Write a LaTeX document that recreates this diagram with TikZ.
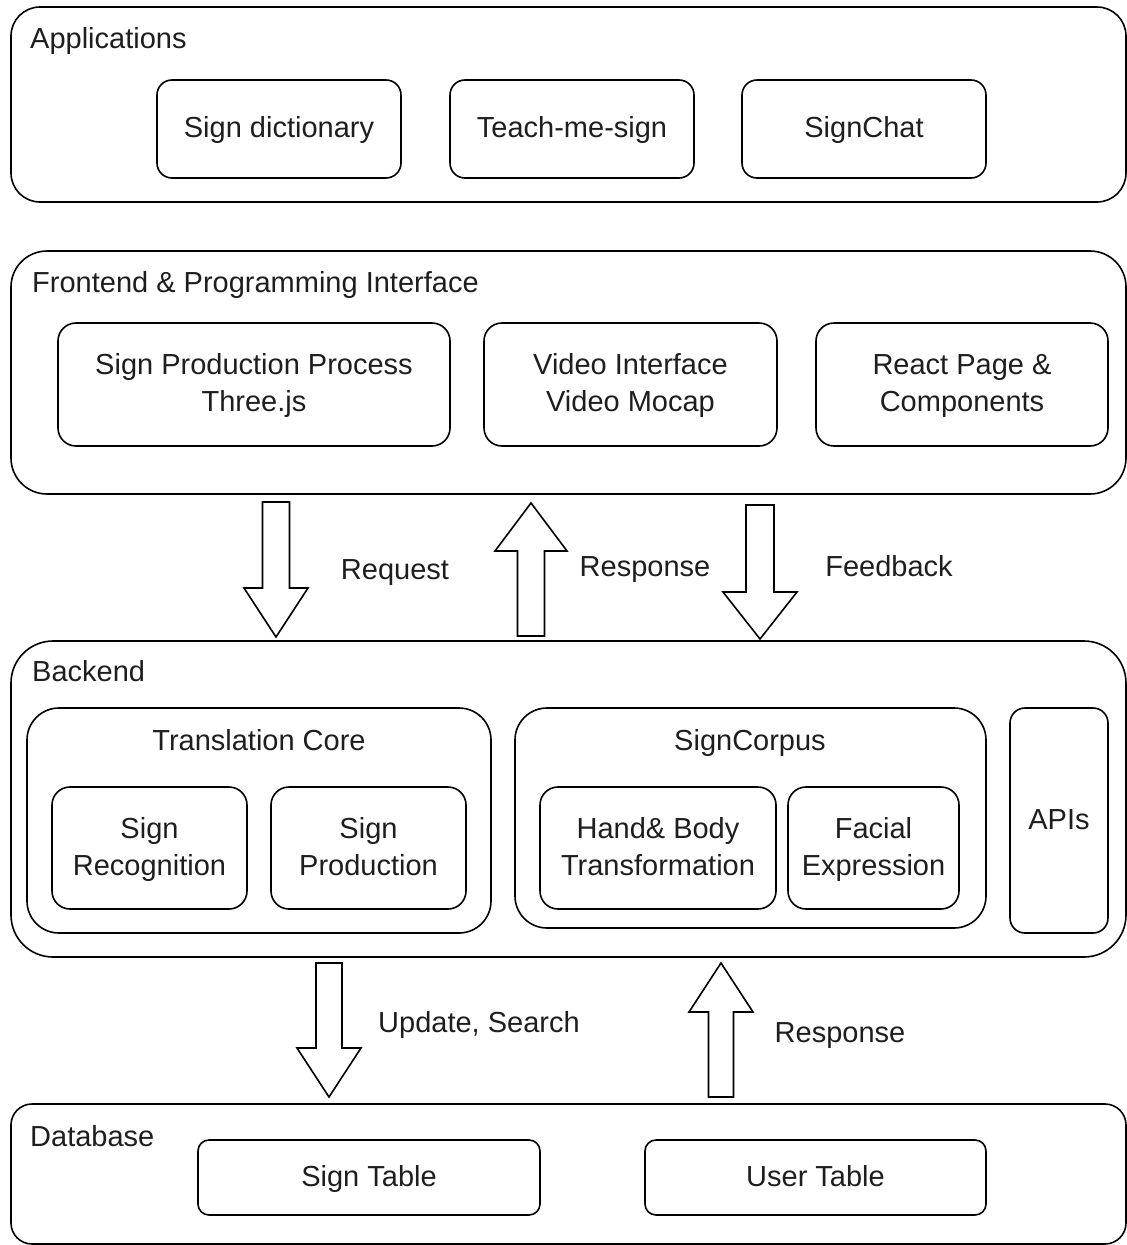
\documentclass[tikz,border=0pt]{standalone}
\usepackage{fontspec}
\setmainfont{Liberation Sans}
\usetikzlibrary{calc}
\definecolor{textc}{RGB}{30,30,30}
\newcommand\mainfs{\fontsize{29}{37}\selectfont}
\newcommand\st{\rule[-6.3pt]{0pt}{30pt}}
\tikzset{
  box/.style={draw=black, line width=1.6pt, inner sep=0pt, outer sep=0pt, align=center, text=textc, font=\mainfs},
  lab/.style={inner sep=0pt, text=textc, font=\mainfs},
  barrow/.style={draw=black, line width=1.6pt, fill=white, line join=miter},
}
% tail, tip, half shaft width, half head width, head length
\newcommand\blockarrow[5]{%
  \coordinate (hbase) at ($(#2)!#5!(#1)$);
  \draw[barrow] ($(#1)!#3!90:(#2)$) -- ($(hbase)!#3!90:(#2)$) -- ($(hbase)!#4!90:(#2)$) -- (#2)
    -- ($(hbase)!#4!-90:(#2)$) -- ($(hbase)!#3!-90:(#2)$) -- ($(#1)!#3!-90:(#2)$) -- cycle;
}
\begin{document}
\begin{tikzpicture}[x=1pt,y=-1pt]
\useasboundingbox (0,0) rectangle (1127,1245);

% Applications
\node[box, rounded corners=29pt, minimum width=1115pt, minimum height=195pt] (app) at (568.5,104.5) {};
\node[lab, anchor=west] (applab) at (30,40) {\st Applications};
\node[box, rounded corners=15pt, minimum width=244pt, minimum height=98pt] (sd) at (279,129) {\st Sign dictionary};
\node[box, rounded corners=15pt, minimum width=244pt, minimum height=98pt] (tms) at (572,129) {\st Teach-me-sign};
\node[box, rounded corners=15pt, minimum width=244pt, minimum height=98pt] (sc) at (864,129) {\st SignChat};

% Frontend
\node[box, rounded corners=36pt, minimum width=1115pt, minimum height=243pt] (front) at (568.5,372.5) {};
\node[lab, anchor=west] (frontlab) at (32,284) {\st Frontend \& Programming Interface};
\node[box, rounded corners=18pt, minimum width=392pt, minimum height=123pt] (spp) at (254,384.5) {\st Sign Production Process\\\st Three.js};
\node[box, rounded corners=18pt, minimum width=293pt, minimum height=123pt] (vi) at (630.5,384.5) {\st Video Interface\\\st Video Mocap};
\node[box, rounded corners=18pt, minimum width=292pt, minimum height=123pt] (rp) at (962,384.5) {\st React Page \&\\\st Components};

% Backend
\node[box, rounded corners=42pt, minimum width=1115pt, minimum height=316pt] (back) at (568.5,799) {};
\node[lab, anchor=west] (backlab) at (32,673) {\st Backend};
\node[box, rounded corners=32pt, minimum width=464pt, minimum height=225pt] (tc) at (259,820.5) {};
\node[lab] (tctitle) at (259,742) {\st Translation Core};
\node[box, rounded corners=18pt, minimum width=195pt, minimum height=122pt] (sr) at (149.5,848) {\st Sign\\\st Recognition};
\node[box, rounded corners=18pt, minimum width=195pt, minimum height=122pt] (sprod) at (368.5,848) {\st Sign\\\st Production};
\node[box, rounded corners=32pt, minimum width=471pt, minimum height=220pt] (corp) at (750.5,818) {};
\node[lab] (corptitle) at (750,742) {\st SignCorpus};
\node[box, rounded corners=18pt, minimum width=236pt, minimum height=122pt] (hbt) at (658,848) {\st Hand\& Body\\\st Transformation};
\node[box, rounded corners=18pt, minimum width=171pt, minimum height=122pt] (fe) at (873.5,848) {\st Facial\\\st Expression};
\node[box, rounded corners=15pt, minimum width=98pt, minimum height=225pt] (api) at (1059,820.5) {\st APIs};

% Database
\node[box, rounded corners=21pt, minimum width=1115pt, minimum height=140pt] (db) at (568.5,1174) {};
\node[lab, anchor=west] (dblab) at (30,1138) {\st Database};
\node[box, rounded corners=11pt, minimum width=342pt, minimum height=75pt] (st) at (369,1177.5) {\st Sign Table};
\node[box, rounded corners=11pt, minimum width=341pt, minimum height=75pt] (ut) at (815.5,1177.5) {\st User Table};

% block arrows
\coordinate (reqT) at (276,502);  \coordinate (reqH) at (276,637);
\coordinate (resT) at (531,636);  \coordinate (resH) at (531,503);
\coordinate (fbT)  at (760,505);  \coordinate (fbH)  at (760,639);
\coordinate (upT)  at (329,963);  \coordinate (upH)  at (329,1097);
\coordinate (rs2T) at (721,1097); \coordinate (rs2H) at (721,963);
\blockarrow{reqT}{reqH}{13.5pt}{32pt}{49pt}
\blockarrow{resT}{resH}{13.5pt}{36pt}{48pt}
\blockarrow{fbT}{fbH}{14pt}{37pt}{47pt}
\blockarrow{upT}{upH}{13pt}{32pt}{49pt}
\blockarrow{rs2T}{rs2H}{12.5pt}{32pt}{49pt}

\node[lab] (reqlab) at (395,571) {\st Request};
\node[lab] (reslab) at (645,568) {\st Response};
\node[lab] (fblab) at (889,568) {\st Feedback};
\node[lab, anchor=west] (uplab) at (378,1024) {\st Update, Search};
\node[lab] (rs2lab) at (840,1034) {\st Response};
\end{tikzpicture}
\end{document}
